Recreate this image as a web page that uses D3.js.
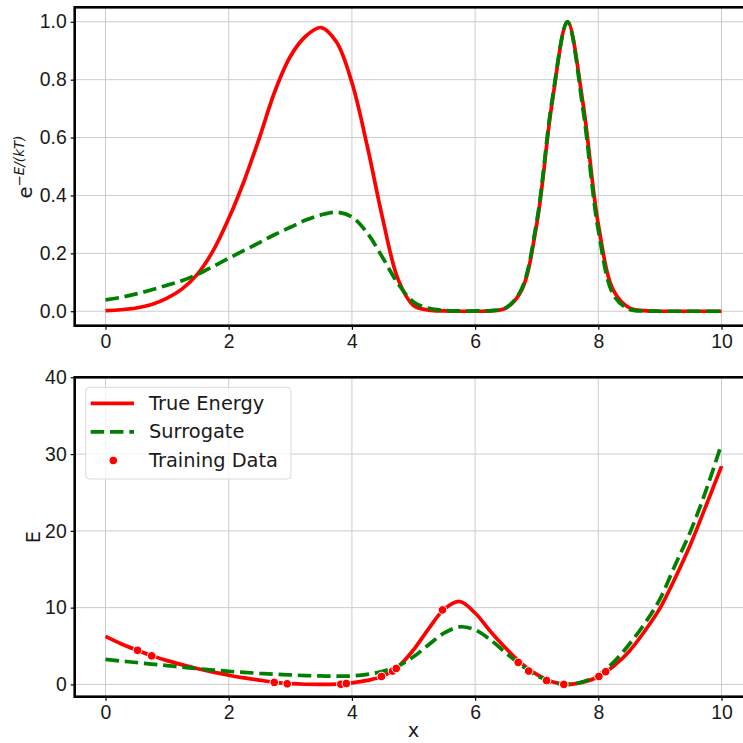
<!DOCTYPE html>
<html>
<head>
<meta charset="utf-8">
<script src="https://cdn.jsdelivr.net/npm/d3@7"></script>
<style>
  html, body { margin: 0; padding: 0; background: #fff; }
  svg { display: block; overflow: hidden; font-family: "DejaVu Sans", sans-serif; }
  .grid line { stroke: #cccccc; stroke-width: 1; }
  .tick-label { font-size: 19.4px; fill: #1a1a1a; }
</style>
</head>
<body>
<div id="chart"></div>
<script>
// sample positions along x (shared by all curves)
const xs = d3.range(0, 10.001, 0.25).map(v => +v.toFixed(2));

// top panel: Boltzmann factor e^{-E/kT}
const boltzTrue = [0.002, 0.005, 0.011, 0.023, 0.045, 0.078, 0.13, 0.21, 0.32, 0.45,
  0.60, 0.76, 0.88, 0.95, 0.98, 0.93, 0.79, 0.57, 0.32, 0.11,
  0.02, 0.004, 0.001, 0.0, 0.0, 0.001, 0.011, 0.07, 0.30, 0.72,
  1.0, 0.72, 0.30, 0.07, 0.012, 0.002, 0.0, 0.0, 0.0, 0.0, 0.0];
const boltzSurr = [0.039, 0.048, 0.06, 0.074, 0.09, 0.106, 0.128, 0.155, 0.183, 0.21,
  0.237, 0.265, 0.29, 0.315, 0.333, 0.342, 0.326, 0.27, 0.185, 0.095,
  0.032, 0.01, 0.003, 0.001, 0.001, 0.002, 0.012, 0.075, 0.31, 0.73,
  1.0, 0.70, 0.28, 0.055, 0.007, 0.001, 0.0, 0.0, 0.0, 0.0, 0.0];

// bottom panel: energy
const energyTrue = [6.25, 5.3, 4.5, 3.75, 3.1, 2.55, 2.05, 1.6, 1.2, 0.85,
  0.55, 0.27, 0.1, 0.02, 0.0, 0.05, 0.2, 0.52, 1.08, 2.3,
  4.5, 7.3, 9.8, 10.8, 9.3, 6.9, 4.7, 2.75, 1.3, 0.35,
  0.0, 0.3, 1.0, 2.4, 4.3, 6.9, 9.9, 13.9, 18.3, 23.3, 28.4];
const energySurr = [3.25, 3.05, 2.85, 2.65, 2.45, 2.25, 2.05, 1.87, 1.70, 1.56,
  1.44, 1.33, 1.24, 1.15, 1.1, 1.07, 1.1, 1.3, 1.7, 2.4,
  3.6, 5.2, 6.7, 7.5, 7.1, 5.8, 4.1, 2.5, 1.15, 0.3,
  0.0, 0.35, 1.2, 2.9, 5.2, 7.9, 11.1, 15.6, 20.0, 25.3, 31.3];

// training samples
const trainX = [0.52, 0.75, 2.74, 2.95, 3.82, 3.91, 4.48, 4.66, 4.72, 5.47, 6.70, 6.87, 7.16, 7.44, 8.01, 8.12];
const trainE = [4.44, 3.72, 0.26, 0.08, 0.02, 0.12, 1.03, 1.74, 2.08, 9.7, 2.87, 1.74, 0.5, 0.0, 1.04, 1.65];

const xTicks = [0, 2, 4, 6, 8, 10];
const topTicks = [0, 0.2, 0.4, 0.6, 0.8, 1.0];
const bottomTicks = [0, 10, 20, 30, 40];

const W = 743, H = 743;
const svg = d3.select("#chart").append("svg").attr("width", W).attr("height", H);

const x = d3.scaleLinear().domain([-0.5, 10.5]).range([74.7, 752.3]);
const yTop = d3.scaleLinear().domain([-0.05, 1.05]).range([325.7, 7.3]);
const yBot = d3.scaleLinear().domain([-1.6, 40]).range([696.7, 377.3]);

const RED = "#ff0000", GREEN = "#008000";
const LW = 3.7, DASH = "13.5,5.8";

function drawPanel(y, yTicks, fmt) {
    const [y0, y1] = y.range();
    const [x0, x1] = x.range();
    const g = svg.append("g");

    const grid = g.append("g").attr("class", "grid");
    grid.selectAll(".gx").data(xTicks).enter().append("line")
        .attr("x1", d => x(d)).attr("x2", d => x(d)).attr("y1", y0).attr("y2", y1);
    grid.selectAll(".gy").data(yTicks).enter().append("line")
        .attr("x1", x0).attr("x2", x1).attr("y1", d => y(d)).attr("y2", d => y(d));

    const xAxis = g.append("g").attr("transform", `translate(0,${y0})`)
        .call(d3.axisBottom(x).tickValues(xTicks).tickSize(4).tickPadding(5).tickFormat(d3.format("d")));
    const yAxis = g.append("g").attr("transform", `translate(${x0},0)`)
        .call(d3.axisLeft(y).tickValues(yTicks).tickSize(4).tickPadding(4).tickFormat(fmt));
    [xAxis, yAxis].forEach(a => {
        a.select(".domain").remove();
        a.selectAll(".tick line").attr("stroke", "#000").attr("stroke-width", 1.2);
        a.selectAll(".tick text").attr("class", "tick-label").attr("font-size", null).attr("font-family", null);
    });

    return g;
}

function frame(g, y) {
    const [y0, y1] = y.range();
    const [x0, x1] = x.range();
    g.append("rect").attr("x", x0).attr("y", y1).attr("width", x1 - x0).attr("height", y0 - y1)
        .attr("fill", "none").attr("stroke", "#000").attr("stroke-width", 2.6);
}

function curve(g, y, vals, color, dashed) {
    const line = d3.line().x(d => x(d[0])).y(d => y(d[1])).curve(d3.curveCatmullRom.alpha(0.5));
    g.append("path")
        .datum(xs.map((v, i) => [v, vals[i]]))
        .attr("d", line)
        .attr("fill", "none")
        .attr("stroke", color)
        .attr("stroke-width", LW)
        .attr("stroke-dasharray", dashed ? DASH : null);
}

// 1. top panel
const gTop = drawPanel(yTop, topTicks, d3.format(".1f"));
curve(gTop, yTop, boltzTrue, RED, false);
curve(gTop, yTop, boltzSurr, GREEN, true);
frame(gTop, yTop);

const topLabel = svg.append("text")
    .attr("transform", `translate(32,167) rotate(-90)`)
    .attr("text-anchor", "middle")
    .style("font-size", "19.4px").style("fill", "#1a1a1a");
topLabel.append("tspan").text("e");
topLabel.append("tspan").attr("dy", -8).style("font-size", "13.5px").style("font-style", "italic").text("−E/(kT)");

// 2. bottom panel
const gBot = drawPanel(yBot, bottomTicks, d3.format("d"));
curve(gBot, yBot, energyTrue, RED, false);
curve(gBot, yBot, energySurr, GREEN, true);
gBot.selectAll(".train").data(trainX).enter().append("circle")
    .attr("cx", d => x(d))
    .attr("cy", (d, i) => yBot(trainE[i]))
    .attr("r", 4.3)
    .attr("fill", RED)
    .attr("stroke", "#fff")
    .attr("stroke-width", 1);
frame(gBot, yBot);

svg.append("text")
    .attr("transform", `translate(39.5,537) rotate(-90)`)
    .attr("text-anchor", "middle")
    .style("font-size", "19.4px").style("fill", "#1a1a1a").text("E");
svg.append("text")
    .attr("x", 413.5).attr("y", 737)
    .attr("text-anchor", "middle")
    .style("font-size", "19.4px").style("fill", "#1a1a1a").text("x");

// 3. legend
const legend = svg.append("g");
legend.append("rect")
    .attr("x", 85.7).attr("y", 387.3).attr("width", 205.3).attr("height", 91.7)
    .attr("rx", 4).attr("fill", "rgba(255,255,255,0.8)").attr("stroke", "#d9d9d9").attr("stroke-width", 1);
const items = [
    { label: "True Energy", type: "line", color: RED },
    { label: "Surrogate", type: "dash", color: GREEN },
    { label: "Training Data", type: "dot", color: RED }
];
items.forEach((it, i) => {
    const cy = 403.3 + i * 28.6;
    if (it.type === "dot") {
        legend.append("circle").attr("cx", 113.3).attr("cy", cy).attr("r", 4.3)
            .attr("fill", it.color).attr("stroke", "#fff").attr("stroke-width", 1);
    } else {
        legend.append("line").attr("x1", 90.7).attr("x2", 134).attr("y1", cy).attr("y2", cy)
            .attr("stroke", it.color).attr("stroke-width", LW)
            .attr("stroke-dasharray", it.type === "dash" ? DASH : null);
    }
    legend.append("text").attr("x", 149).attr("y", cy)
        .attr("dominant-baseline", "central")
        .style("font-size", "19.4px").style("fill", "#1a1a1a").text(it.label);
});
</script>
</body>
</html>
